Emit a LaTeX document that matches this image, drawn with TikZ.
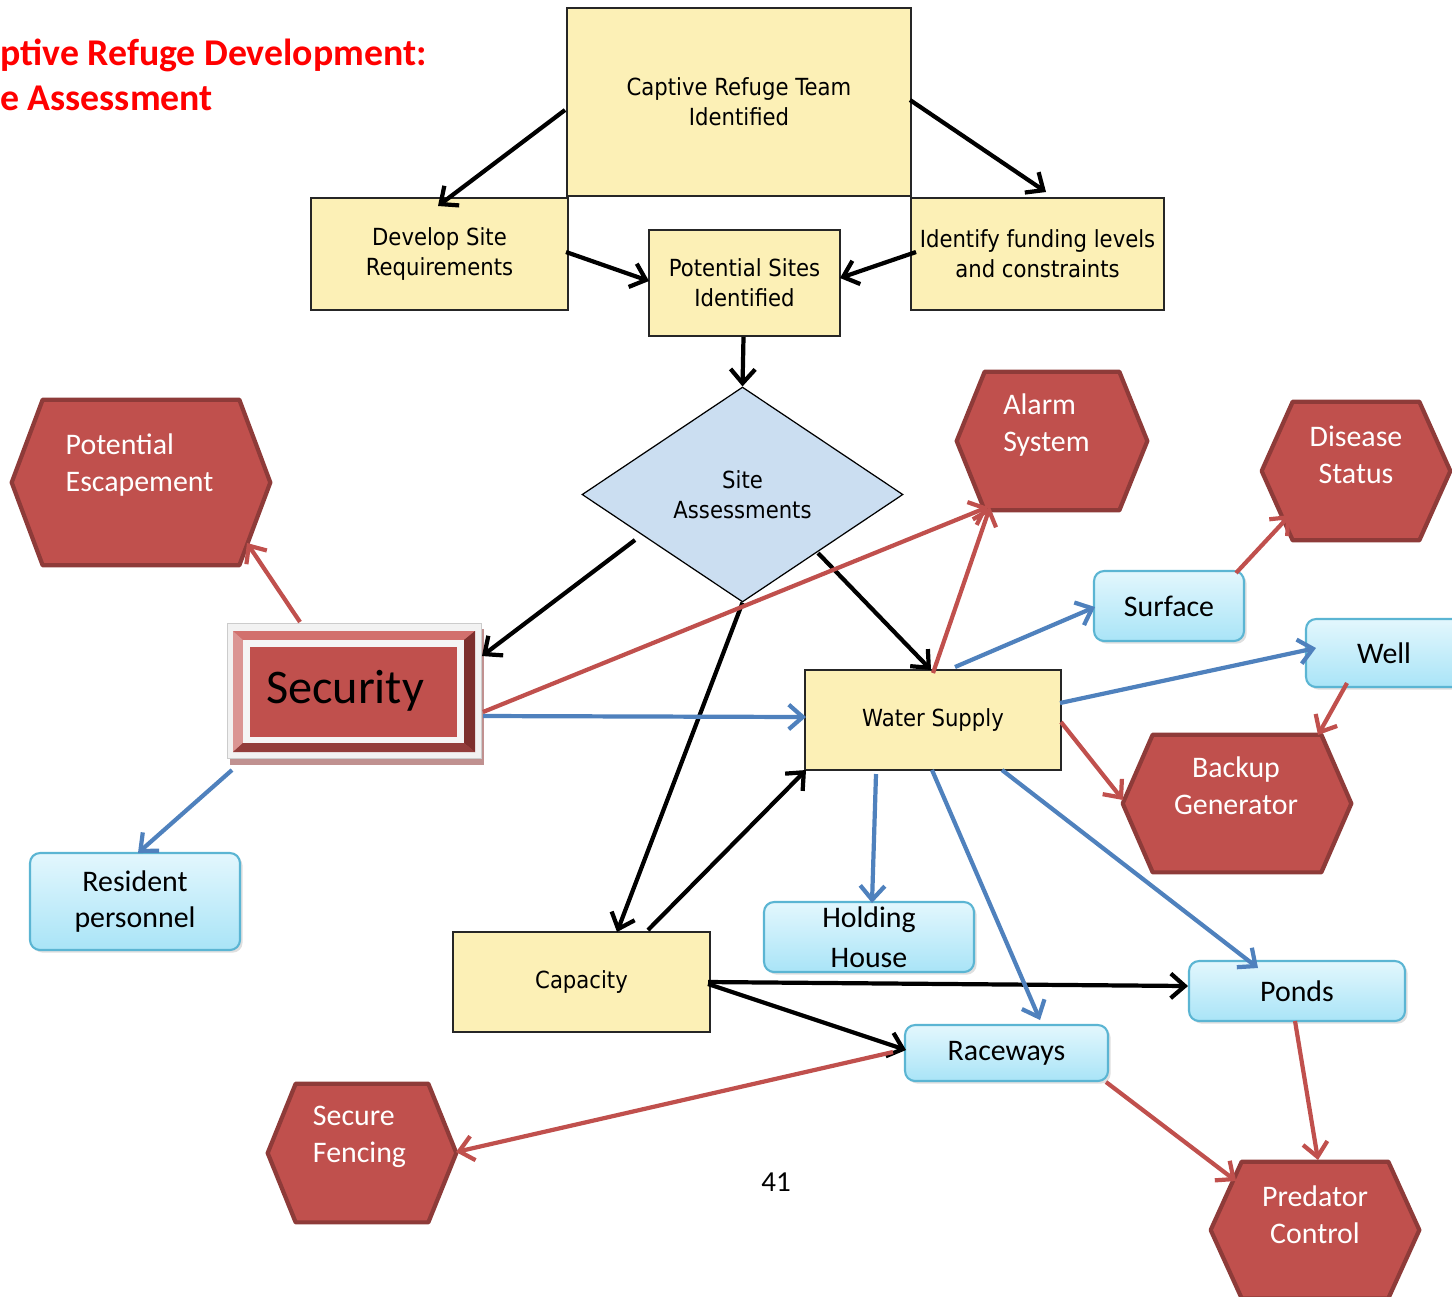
\documentclass[tikz,border=0pt]{standalone}
\usepackage{fontspec}
\setmainfont{Carlito}
\newfontfamily\boxfont[FakeStretch=0.9]{DejaVu Sans}
\usetikzlibrary{arrows.meta,calc,shapes.geometric,shadows,backgrounds}
\definecolor{yel}{HTML}{FCF0B6}
\definecolor{ybord}{HTML}{262626}
\definecolor{dia}{HTML}{CBDEF1}
\definecolor{hexred}{HTML}{C0504D}
\definecolor{hexbord}{HTML}{8E3B39}
\definecolor{btop}{HTML}{E3F7FD}
\definecolor{bbot}{HTML}{A9E4F7}
\definecolor{bbord}{HTML}{5BB5D3}
\definecolor{arblue}{HTML}{4F81BD}
\definecolor{arred}{HTML}{C0504D}
\definecolor{bvtop}{HTML}{D2706D}
\definecolor{bvleft}{HTML}{DB9593}
\definecolor{bvright}{HTML}{7D2F2D}
\definecolor{bvbot}{HTML}{933D3B}
\newcommand\hexbg[2]{%
  \begin{scope}[on background layer]
    \filldraw[hexpath] (#1.west) -- ($(#1.north west)+(#2,0)$) -- ($(#1.north east)+(-#2,0)$)
      -- (#1.east) -- ($(#1.south east)+(-#2,0)$) -- ($(#1.south west)+(#2,0)$) -- cycle;
  \end{scope}}
\begin{document}
\begin{tikzpicture}[x=0.02cm,y=-0.02cm,
  ybox/.style={draw=ybord,line width=0.9pt,fill=yel,align=center,inner sep=0pt,
    font=\boxfont\fontsize{13.4}{17}\selectfont},
  sitebox/.style={diamond,draw=black,line width=0.7pt,fill=dia,align=center,inner sep=0pt,
    font=\boxfont\fontsize{13.4}{17}\selectfont},
  bbox/.style={rounded corners=0.2cm,draw=bbord,line width=1.2pt,top color=btop,bottom color=bbot,
    drop shadow={shadow xshift=1.5pt,shadow yshift=-1.5pt,opacity=0.25},
    align=center,inner sep=0pt,font=\fontsize{17}{21}\selectfont},
  hexn/.style={inner sep=0pt},
  hexpath/.style={fill=hexred,draw=hexbord,line width=2.4pt,line join=round},
  hext/.style={text=white,inner sep=0pt,font=\fontsize{17}{21}\selectfont},
  arr/.style={line width=2.4pt,-{Straight Barb[length=8pt,width=14pt]}},
  blk/.style={arr,black},
  blu/.style={arr,arblue},
  rd/.style={arr,arred},
  ttl/.style={text=red,inner sep=0pt,font=\bfseries\fontsize{21.5}{26}\selectfont}]
\useasboundingbox (0,0) rectangle (1452,1296);

% title
\node[ttl,anchor=base west] (t1) at (0,65) {ptive Refuge Development:};
\node[ttl,anchor=base west] (t2) at (0,110) {e Assessment};

% yellow boxes
\node[ybox,minimum width=6.88cm,minimum height=3.76cm] (cap) at (739,102) {Captive Refuge Team\\Identified};
\node[ybox,minimum width=5.14cm,minimum height=2.24cm] (dev) at (439.5,254) {Develop Site\\Requirements};
\node[ybox,minimum width=3.82cm,minimum height=2.12cm] (pot) at (744.5,283) {Potential Sites\\Identified};
\node[ybox,minimum width=5.06cm,minimum height=2.24cm] (fund) at (1037.5,254) {Identify funding levels\\and constraints};
\node[sitebox,minimum width=6.42cm,minimum height=4.30cm] (site) at (742.5,494.5) {Site\\Assessments};
\node[ybox,minimum width=5.12cm,minimum height=2.0cm,text depth=0.1cm] (water) at (933,720) {Water Supply};
\node[ybox,minimum width=5.14cm,minimum height=2.0cm,text depth=0.1cm] (capy) at (581.5,982) {Capacity};

% security
\node[inner xsep=0.78cm,inner ysep=0pt,text width=3.52cm,align=left,minimum height=2.7cm,
  font=\fontsize{27.5}{31}\selectfont] (sec) at (354,690.5) {Security};
\begin{scope}[on background layer,shift={(sec.center)}]
  \fill[hexbord!70!white,opacity=0.8] (-124,-62) rectangle (130,74);
  \filldraw[fill=white!95!black,draw=black!20,line width=0.5pt] (-127,-67.5) rectangle (127,67.5);
  \fill[hexred] (-121,-59.5) rectangle (121,61.5);
  \fill[bvtop] (-121,-59.5) -- (121,-59.5) -- (110,-50.5) -- (-111,-50.5) -- cycle;
  \fill[bvleft] (-121,-59.5) -- (-111,-50.5) -- (-111,52.5) -- (-121,61.5) -- cycle;
  \fill[bvright] (121,-59.5) -- (110,-50.5) -- (110,52.5) -- (121,61.5) -- cycle;
  \fill[bvbot] (-121,61.5) -- (121,61.5) -- (110,52.5) -- (-111,52.5) -- cycle;
  \fill[white!96!black] (-111,-50.5) rectangle (110,52.5);
  \fill[hexred] (-104,-43.5) rectangle (103,46.5);
\end{scope}

% hexagons
\node[hexn,minimum width=5.16cm,minimum height=3.30cm] (esc) at (141,482.5) {};
\hexbg{esc}{31}
\node[hext,align=left] (esct) at (139.5,465) {Potential\\Escapement};
\node[hexn,minimum width=3.80cm,minimum height=2.76cm] (alarm) at (1052,441) {};
\hexbg{alarm}{28}
\node[hext,align=left] (alarmt) at (1046.5,425) {Alarm\\System};
\node[hexn,minimum width=3.76cm,minimum height=2.76cm] (disease) at (1356,471) {};
\hexbg{disease}{31}
\node[hext,align=center] (diseaset) at (1356,455) {Disease\\Status};
\node[hexn,minimum width=4.56cm,minimum height=2.74cm] (backup) at (1237,803.5) {};
\hexbg{backup}{30}
\node[hext,align=center] (backupt) at (1236,786) {Backup\\Generator};
\node[hexn,minimum width=3.76cm,minimum height=2.76cm] (fence) at (362,1153) {};
\hexbg{fence}{28}
\node[hext,align=left] (fencet) at (359.5,1136.5) {Secure\\Fencing};
\node[hexn,minimum width=4.16cm,minimum height=2.72cm] (pred) at (1315,1230) {};
\hexbg{pred}{31}
\node[hext,align=center] (predt) at (1315,1215) {Predator\\Control};

% blue boxes
\node[bbox,minimum width=3.0cm,minimum height=1.4cm] (surface) at (1169,606) {Surface};
\node[bbox,minimum width=3.2cm,minimum height=1.36cm] (well) at (1386,653) {\hspace*{-0.08cm}Well};
\node[bbox,minimum width=4.2cm,minimum height=1.94cm] (res) at (135,901.5) {Resident\\personnel};
\node[bbox,minimum width=4.2cm,minimum height=1.4cm,font=\fontsize{17}{22.7}\selectfont] (hold) at (869,937) {Holding\\House};
\node[bbox,minimum width=4.32cm,minimum height=1.2cm] (ponds) at (1297,991) {Ponds};
\node[bbox,minimum width=4.06cm,minimum height=1.12cm] (race) at (1006.5,1053) {Raceways};

% page number
\node[inner sep=0pt,font=\fontsize{16.5}{20}\selectfont] (pg) at (776,1182) {41};

% black connectors
\draw[blk] ($(cap)+(-174,8)$) -- ($(dev)+(-1.5,-48)$);
\draw[blk] ($(cap)+(171,-2)$) -- ($(fund)+(8.5,-62)$);
\draw[blk] ($(dev)+(126.5,-2)$) -- ($(pot)+(-95.5,-2)$);
\draw[blk] ($(fund)+(-121.5,-2)$) -- ($(pot)+(95.5,-5)$);
\draw[blk] ($(pot.south)+(-1,0)$) -- (site.north);
\draw[blk] ($(site)+(-107.5,45.5)$) -- ($(sec)+(128,-34.5)$);
\draw[blk] ($(site)+(75.5,58.5)$) -- ($(water)+(-2,-50)$);
\draw[blk] (site.south) -- ($(capy)+(35.5,-50)$);
\draw[blk] ($(capy)+(66.5,-52)$) -- ($(water)+(-127,50)$);
\draw[blk] ($(capy)+(126.5,0)$) -- ($(ponds)+(-109,-5)$);
\draw[blk] ($(capy)+(126.5,2)$) -- ($(race)+(-100.5,-3)$);

% blue connectors
\draw[blu] ($(sec)+(129,25.5)$) -- ($(water)+(-127,-3)$);
\draw[blu] ($(sec)+(-122,79.5)$) -- ($(res)+(3,-48.5)$);
\draw[blu] ($(water)+(22,-53)$) -- ($(surface)+(-74,1)$);
\draw[blu] ($(water)+(127,-17)$) -- ($(well)+(-70,-5)$);
\draw[blu] ($(water)+(-57,54)$) -- ($(hold)+(3,-34)$);
\draw[blu] ($(water)+(-1,50)$) -- ($(race)+(33.5,-33)$);
\draw[blu] ($(water)+(69,50)$) -- ($(ponds)+(-39,-23)$);

% red connectors
\draw[rd] ($(sec)+(-54,-68.5)$) -- ($(esc)+(106,60.5)$);
\draw[rd] ($(sec)+(129,21.5)$) -- ($(alarm)+(-64,66)$);
\draw[rd] ($(water)+(0,-47)$) -- ($(alarm)+(-62,66)$);
\draw[rd] ($(surface)+(67,-33)$) -- ($(disease)+(-66,44)$);
\draw[rd] ($(well)+(-39,30)$) -- ($(backup)+(81,-68.5)$);
\draw[rd] ($(water)+(128,2)$) -- ($(backup)+(-114,-3.5)$);
\draw[rd] ($(race)+(-113.5,-1)$) -- ($(fence)+(94,-1)$);
\draw[rd] ($(race)+(99.5,29)$) -- ($(pred)+(-79,-49)$);
\draw[rd] ($(ponds)+(-2,30)$) -- ($(pred)+(3,-70)$);
\end{tikzpicture}
\end{document}
